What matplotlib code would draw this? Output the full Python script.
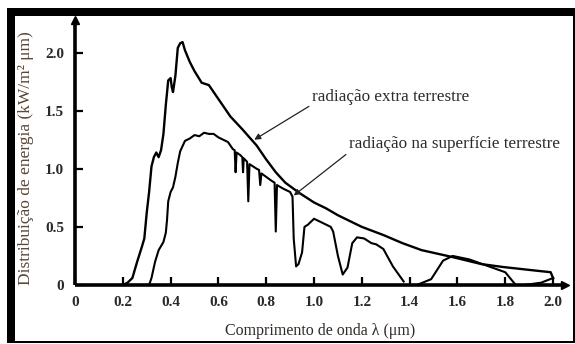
import numpy as np
import matplotlib
matplotlib.use("Agg")
import matplotlib.pyplot as plt
from matplotlib.patches import Rectangle

plt.rcParams['font.family'] = ['Liberation Serif', 'DejaVu Serif']

# Extraterrestrial solar spectrum (wavelength in µm, kW/m² µm)
ext_x = [0.20, 0.22, 0.24, 0.26, 0.28, 0.29, 0.30, 0.31, 0.32, 0.33, 0.34, 0.35,
         0.36, 0.37, 0.38, 0.39, 0.40, 0.405, 0.41, 0.42, 0.43, 0.44, 0.45, 0.46,
         0.48, 0.50, 0.53, 0.56, 0.59, 0.65, 0.70, 0.76, 0.80, 0.84, 0.88, 0.94, 1.00,
         1.05, 1.10, 1.15, 1.20, 1.29, 1.37, 1.45, 1.58, 1.70, 1.79, 1.90, 1.99, 2.00]
ext_y = [0.00, 0.02, 0.06, 0.20, 0.33, 0.40, 0.62, 0.80, 1.02, 1.10, 1.14, 1.10,
         1.16, 1.30, 1.55, 1.76, 1.78, 1.70, 1.66, 1.80, 2.04, 2.08, 2.09, 2.02,
         1.92, 1.84, 1.74, 1.72, 1.63, 1.45, 1.34, 1.20, 1.08, 0.97, 0.88, 0.79, 0.71,
         0.66, 0.60, 0.55, 0.50, 0.43, 0.36, 0.30, 0.24, 0.18, 0.155, 0.13, 0.11, 0.06]

# Spectrum measured at the Earth's surface (NaN separates the bands)
sur_x = [0.31, 0.32, 0.335, 0.35, 0.37, 0.38, 0.385, 0.39, 0.40, 0.41, 0.42, 0.43,
         0.44, 0.46, 0.48, 0.50, 0.52, 0.54, 0.56, 0.58, 0.60, 0.62, 0.64, 0.66,
         0.668, 0.672, 0.676, 0.69, 0.70, 0.703, 0.706, 0.72, 0.725, 0.73, 0.76,
         0.77, 0.775, 0.78, 0.80, 0.82, 0.835, 0.84, 0.845, 0.87, 0.90, 0.91,
         0.915, 0.925, 0.935, 0.95, 0.96, 0.975, 1.00, 1.03, 1.07, 1.08, 1.10,
         1.12, 1.14, 1.16, 1.18, 1.21, 1.24, 1.26, 1.29, 1.33, 1.375, np.nan,
         1.43, 1.49, 1.54, 1.58, 1.65, 1.745, 1.80, 1.84, np.nan,
         1.88, 1.95, 2.00]
sur_y = [0.00, 0.06, 0.20, 0.30, 0.37, 0.45, 0.56, 0.72, 0.80, 0.84, 0.93, 1.05,
         1.15, 1.24, 1.26, 1.29, 1.28, 1.31, 1.30, 1.30, 1.27, 1.25, 1.23, 1.17,
         1.16, 0.97, 1.14, 1.12, 1.10, 0.97, 1.09, 1.06, 0.72, 1.04, 1.00,
         0.99, 0.86, 0.96, 0.93, 0.90, 0.88, 0.46, 0.86, 0.83, 0.80, 0.76,
         0.40, 0.16, 0.18, 0.28, 0.50, 0.52, 0.57, 0.54, 0.50, 0.46, 0.25,
         0.09, 0.15, 0.36, 0.41, 0.40, 0.36, 0.35, 0.31, 0.16, 0.03, np.nan,
         0.00, 0.05, 0.21, 0.25, 0.22, 0.15, 0.11, 0.01, np.nan,
         0.00, 0.02, 0.06]

x_ticks = [0.0, 0.2, 0.4, 0.6, 0.8, 1.0, 1.2, 1.4, 1.6, 1.8, 2.0]
x_labels = ['0', '0.2', '0.4', '0.6', '0.8', '1.0', '1.2', '1.4', '1.6', '1.8', '2.0']
y_ticks = [0.0, 0.5, 1.0, 1.5, 2.0]
y_labels = ['0', '0.5', '1.0', '1.5', '2.0']

W, H = 575, 344
fig = plt.figure(figsize=(W / 100, H / 100), dpi=100)
fig.patch.set_facecolor('white')

ax = fig.add_axes([75 / W, 59 / H, 490 / W, 265 / H])
ax.set_xlim(0, 2.05)
ax.set_ylim(0, 2.28)

ax.plot(ext_x, ext_y, color='black', lw=1.7, solid_joinstyle='round')
ax.plot(sur_x, sur_y, color='black', lw=1.5, solid_joinstyle='round')

for side in ('top', 'right'):
    ax.spines[side].set_visible(False)
for side in ('left', 'bottom'):
    ax.spines[side].set_linewidth(2.6)
    ax.spines[side].set_capstyle('butt')

# arrowheads at the ends of the axes
ax.plot(1, 0, '>', color='black', ms=6, transform=ax.transAxes, clip_on=False)
ax.plot(0, 1, '^', color='black', ms=6, transform=ax.transAxes, clip_on=False)

ax.set_xticks(x_ticks)
ax.set_xticklabels(x_labels)
ax.set_yticks(y_ticks)
ax.set_yticklabels(y_labels)
ax.tick_params(direction='in', length=6, width=1.6, labelsize=11, pad=8,
               colors='black', labelcolor='#2a2a2a')
for lab in ax.get_xticklabels() + ax.get_yticklabels():
    lab.set_fontweight('bold')

ax.set_xlabel('Comprimento de onda λ (μm)', fontsize=11.5, color='#2e2a26', labelpad=10)
fig.text(26 / W, 1 - 158 / H, 'Distribuição de energia (kW/m² μm)', rotation=90,
         ha='center', va='center', fontsize=12.5, color='#5a4634')

ax.annotate('radiação extra terrestre', xy=(0.75, 1.25), xytext=(0.99, 1.62),
            fontsize=12.3, color='#2e2a26', ha='left', va='center',
            arrowprops=dict(arrowstyle='-|>', lw=0.9, color='#222222',
                            mutation_scale=9, shrinkA=0, shrinkB=0,
                            relpos=(0.0, 0.0)))
ax.annotate('radiação na superfície terrestre', xy=(0.915, 0.77), xytext=(1.145, 1.21),
            fontsize=12.3, color='#2e2a26', ha='left', va='center',
            arrowprops=dict(arrowstyle='-|>', lw=0.9, color='#222222',
                            mutation_scale=9, shrinkA=0, shrinkB=0,
                            relpos=(0.0, 0.0)))

# picture frame: heavy top/left edges, thin right/bottom edges
def px_rect(x0, y0, x1, y1):
    fig.add_artist(Rectangle((x0 / W, 1 - y1 / H), (x1 - x0) / W, (y1 - y0) / H,
                             transform=fig.transFigure, facecolor='black',
                             edgecolor='none'))

px_rect(7, 8, 575, 16)
px_rect(7, 8, 15, 343)
px_rect(572.5, 8, 575, 343)
px_rect(7, 341, 575, 343)

fig.savefig('out.png', dpi=100, facecolor='white')
